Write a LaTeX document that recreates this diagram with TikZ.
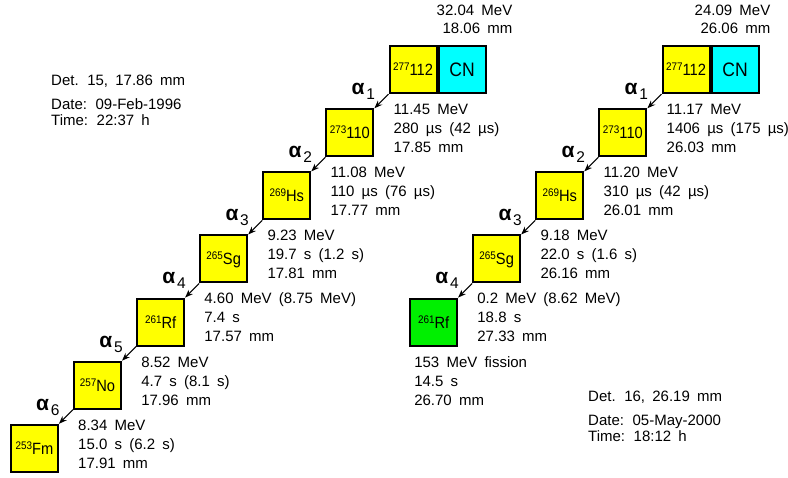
\documentclass[tikz,border=0pt]{standalone}
\usepackage{fontspec}
\setmainfont{Liberation Sans}
\newfontfamily\narrowfont[FakeStretch=0.9]{Liberation Sans}
\usetikzlibrary{arrows.meta,calc}
\definecolor{nucyellow}{RGB}{255,255,0}
\definecolor{nuccyan}{RGB}{0,255,255}
\definecolor{nucgreen}{RGB}{0,240,0}
\newcommand\bodyfont{\fontsize{15}{19}\selectfont\spaceskip=7.2pt\relax}
\newcommand\topfont{\fontsize{15}{18.3}\selectfont\spaceskip=7.2pt\relax}
\newcommand\detfont{\fontsize{15}{16}\selectfont\spaceskip=7.2pt\relax}
\newcommand\boxfont{\narrowfont\fontsize{16.3}{16.3}\selectfont}
\newcommand\cnfont{\narrowfont\fontsize{19.5}{19.5}\selectfont}
\newcommand\nuc[2]{\raisebox{5pt}{\fontsize{11}{11}\selectfont#1}#2}
\newcommand\lns[1]{\begin{tabular}[t]{@{}l@{}}#1\end{tabular}}
\newcommand\rlns[1]{\begin{tabular}[t]{@{}r@{}}#1\end{tabular}}
\newcommand\alab[1]{{\fontsize{21}{21}\selectfont\bfseries α}\hspace{1.8pt}\raisebox{-5pt}{\fontsize{15.5}{15.5}\selectfont #1}}
\tikzset{
  nucbox/.style={draw, line width=2pt, fill=nucyellow, minimum width=47pt, minimum height=47pt,
    inner sep=0pt, text height=12pt, text depth=0pt, font=\boxfont},
  cnbox/.style={nucbox, fill=nuccyan, anchor=west, text height=14.6pt, font=\cnfont},
  info/.style={anchor=base west, inner sep=0pt, font=\bodyfont},
  topinfo/.style={anchor=base east, inner sep=0pt, font=\topfont},
  detinfo/.style={anchor=base west, inner sep=0pt, font=\detfont},
  alphalab/.style={anchor=base west, inner sep=0pt},
  decay/.style={line width=1pt, -{Stealth[length=8pt,width=6pt]}}
}
\begin{document}
\begin{tikzpicture}[x=1pt,y=-1pt]
\useasboundingbox (0,0) rectangle (788,478);
\def\st{63.1}
% ---------- left chain ----------
\node[nucbox] (L0) at (413,69.7) {\nuc{277}{112}};
\node[cnbox] (L0cn) at (L0.east) {CN};
\node[nucbox] (L1) at (413-1*\st,69.7+1*\st) {\nuc{273}{110}};
\node[nucbox] (L2) at (413-2*\st,69.7+2*\st) {\nuc{269}{Hs}};
\node[nucbox] (L3) at (413-3*\st,69.7+3*\st) {\nuc{265}{Sg}};
\node[nucbox] (L4) at (413-4*\st,69.7+4*\st) {\nuc{261}{Rf}};
\node[nucbox] (L5) at (413-5*\st,69.7+5*\st) {\nuc{257}{No}};
\node[nucbox] (L6) at (413-6*\st,69.7+6*\st) {\nuc{253}{Fm}};
\foreach \a/\b in {L0/L1,L1/L2,L2/L3,L3/L4,L4/L5,L5/L6}{\draw[decay] (\a.south west) -- (\b.north east);}
\node[alphalab] (La1) at ($(L0.south west)+(-37,0.5)$) {\alab{1}};
\node[alphalab] (La2) at ($(L1.south west)+(-37,0.5)$) {\alab{2}};
\node[alphalab] (La3) at ($(L2.south west)+(-37,0.5)$) {\alab{3}};
\node[alphalab] (La4) at ($(L3.south west)+(-37,0.5)$) {\alab{4}};
\node[alphalab] (La5) at ($(L4.south west)+(-37,0.5)$) {\alab{5}};
\node[alphalab] (La6) at ($(L5.south west)+(-37,0.5)$) {\alab{6}};
\node[topinfo] (Ltop) at ($(L0cn.north east)+(26,-29.5)$) {\rlns{32.04 MeV\\18.06 mm}};
\node[info] (Li0) at ($(L0.south west)+(5,20.5)$) {\lns{11.45 MeV\\280 µs (42 µs)\\17.85 mm}};
\node[info] (Li1) at ($(L1.south west)+(5,20.5)$) {\lns{11.08 MeV\\110 µs (76 µs)\\17.77 mm}};
\node[info] (Li2) at ($(L2.south west)+(5,20.5)$) {\lns{9.23 MeV\\19.7 s (1.2 s)\\17.81 mm}};
\node[info] (Li3) at ($(L3.south west)+(5,20.5)$) {\lns{4.60 MeV (8.75 MeV)\\7.4 s\\17.57 mm}};
\node[info] (Li4) at ($(L4.south west)+(5,20.5)$) {\lns{8.52 MeV\\4.7 s (8.1 s)\\17.96 mm}};
\node[info] (Li5) at ($(L5.south west)+(5,20.5)$) {\lns{8.34 MeV\\15.0 s (6.2 s)\\17.91 mm}};
\node[detinfo] (Ldet) at (51,86) {\lns{Det. 15, 17.86 mm\\[8pt]Date: 09-Feb-1996\\Time: 22:37 h}};
% ---------- right chain ----------
\node[nucbox] (R0) at (686,69.7) {\nuc{277}{112}};
\node[cnbox] (R0cn) at (R0.east) {CN};
\node[nucbox] (R1) at (686-1*\st,69.7+1*\st) {\nuc{273}{110}};
\node[nucbox] (R2) at (686-2*\st,69.7+2*\st) {\nuc{269}{Hs}};
\node[nucbox] (R3) at (686-3*\st,69.7+3*\st) {\nuc{265}{Sg}};
\node[nucbox, fill=nucgreen] (R4) at (686-4*\st,69.7+4*\st) {\nuc{261}{Rf}};
\foreach \a/\b in {R0/R1,R1/R2,R2/R3,R3/R4}{\draw[decay] (\a.south west) -- (\b.north east);}
\node[alphalab] (Ra1) at ($(R0.south west)+(-37,0.5)$) {\alab{1}};
\node[alphalab] (Ra2) at ($(R1.south west)+(-37,0.5)$) {\alab{2}};
\node[alphalab] (Ra3) at ($(R2.south west)+(-37,0.5)$) {\alab{3}};
\node[alphalab] (Ra4) at ($(R3.south west)+(-37,0.5)$) {\alab{4}};
\node[topinfo] (Rtop) at ($(R0cn.north east)+(11,-29.5)$) {\rlns{24.09 MeV\\26.06 mm}};
\node[info] (Ri0) at ($(R0.south west)+(5,20.5)$) {\lns{11.17 MeV\\1406 µs (175 µs)\\26.03 mm}};
\node[info] (Ri1) at ($(R1.south west)+(5,20.5)$) {\lns{11.20 MeV\\310 µs (42 µs)\\26.01 mm}};
\node[info] (Ri2) at ($(R2.south west)+(5,20.5)$) {\lns{9.18 MeV\\22.0 s (1.6 s)\\26.16 mm}};
\node[info] (Ri3) at ($(R3.south west)+(5,20.5)$) {\lns{0.2 MeV (8.62 MeV)\\18.8 s\\27.33 mm}};
\node[info] (Ri4) at ($(R4.south west)+(5,20.5)$) {\lns{153 MeV fission\\14.5 s\\26.70 mm}};
\node[detinfo] (Rdet) at (588,402) {\lns{Det. 16, 26.19 mm\\[8pt]Date: 05-May-2000\\Time: 18:12 h}};
\end{tikzpicture}
\end{document}
